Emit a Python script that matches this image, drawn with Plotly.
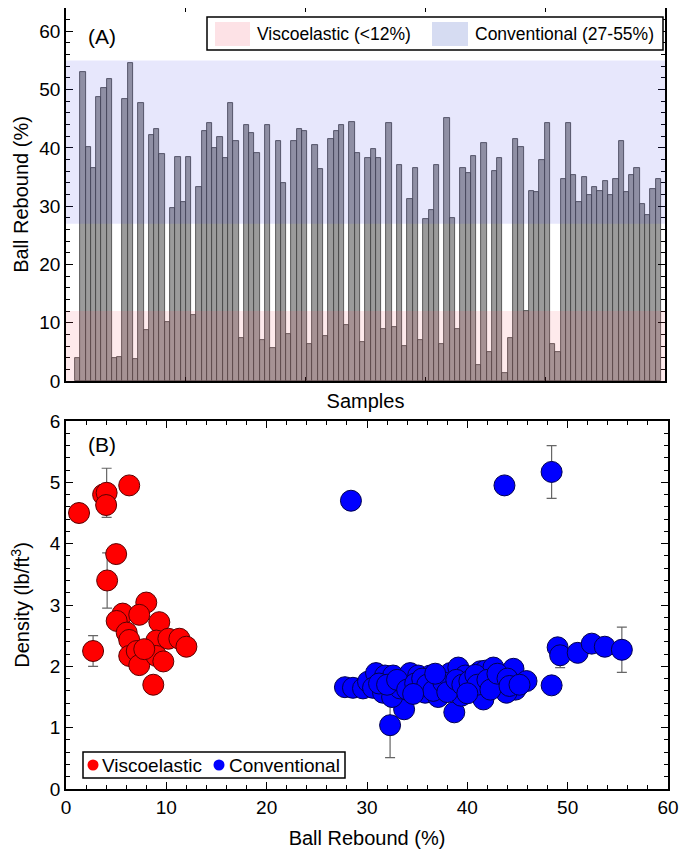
import plotly.graph_objects as go

# ---------------- data ----------------
sample_rebound = [
    4.0, 53.1, 40.2, 36.6, 48.8, 50.3, 51.8, 4.0, 4.1, 48.4,
    54.6, 3.8, 47.7, 8.7, 42.2, 43.2, 38.9, 10.2, 29.6, 38.5,
    30.7, 38.5, 11.3, 33.3, 42.9, 44.2, 39.9, 41.9, 38.2, 47.7,
    41.2, 7.3, 43.9, 42.5, 39.2, 7.0, 43.9, 5.7, 41.2, 34.0,
    8.0, 41.2, 43.2, 42.9, 6.4, 40.5, 36.3, 7.7, 41.5, 42.9,
    43.9, 9.6, 44.5, 39.2, 6.7, 38.2, 39.8, 38.2, 8.9, 44.2,
    9.3, 37.0, 6.0, 31.3, 36.6, 7.0, 27.8, 29.3, 37.0, 6.3,
    45.2, 28.0, 8.9, 36.6, 35.7, 38.6, 2.8, 40.8, 5.0, 36.0,
    38.2, 1.4, 7.3, 41.5, 40.2, 12.0, 32.6, 32.4, 37.9, 44.2,
    6.3, 5.0, 34.7, 44.2, 35.3, 30.7, 35.0, 31.9, 33.3, 32.6,
    34.3, 31.9, 34.7, 41.2, 32.4, 35.3, 36.6, 30.3, 28.4, 33.0,
    34.7,
]
samples = list(range(1, len(sample_rebound) + 1))

visco_rebound = [1.3, 2.7, 3.7, 4.05, 4.0, 6.3, 5.0, 4.1, 8.0, 5.65,
                 5.05, 7.3, 9.3, 6.05, 6.3, 9.0, 10.2, 11.3, 12.0, 6.3,
                 7.05, 7.3, 9.0, 9.7, 8.7, 7.8]
visco_density = [4.5, 2.25, 4.8, 4.83, 4.63, 4.95, 3.83, 3.4, 3.04, 2.86,
                 2.74, 2.84, 2.72, 2.55, 2.43, 2.42, 2.45, 2.45, 2.32, 2.17,
                 2.25, 2.02, 2.17, 2.08, 1.7, 2.28]

conv_rebound = [28.4, 43.7, 48.4, 48.4, 49.0, 49.25, 51.0, 52.4, 53.7, 55.4,
                32.3, 33.7, 38.7,
                27.8, 28.6, 29.6, 30.1, 30.9, 30.6, 31.6, 31.8, 32.6, 32.5,
                33.3, 34.3, 35.1, 35.0, 35.8, 36.3, 37.0, 37.3, 37.1, 38.3,
                39.1, 38.6, 39.4, 39.8, 40.6, 41.3, 41.8, 41.6, 41.6, 42.6,
                42.9, 43.4, 44.6, 44.8, 45.9, 43.9,
                31.2, 32.0, 33.0, 34.0, 34.8, 35.5, 36.0, 36.6, 37.6, 38.0,
                38.9, 39.5, 40.2, 40.8, 41.0, 42.0, 42.3, 43.0, 44.0, 44.2,
                45.2, 34.6, 36.8, 40.0]
conv_density = [4.7, 4.95, 5.17, 1.69, 2.31, 2.18, 2.22, 2.37, 2.32, 2.27,
                1.04, 1.3, 1.25,
                1.66, 1.65, 1.64, 1.75, 1.89, 1.65, 1.57, 1.85, 1.85, 1.5,
                1.64, 1.89, 1.85, 1.65, 1.57, 1.85, 1.68, 1.82, 1.5, 1.89,
                1.98, 1.62, 1.52, 1.85, 1.6, 1.92, 1.93, 1.62, 1.46, 1.98,
                1.79, 1.7, 1.96, 1.62, 1.76, 1.57,
                1.72, 1.7, 1.78, 1.62, 1.72, 1.8, 1.7, 1.6, 1.74, 1.58,
                1.78, 1.7, 1.76, 1.86, 1.7, 1.78, 1.62, 1.88, 1.8, 1.68,
                1.7, 1.55, 1.88, 1.56]

visco_err_rebound = [2.7, 4.05, 4.1, 10.2]
visco_err_density = [2.25, 4.83, 3.4, 2.45]
visco_err = [0.25, 0.4, 0.45, 0.08]
conv_err_rebound = [48.4, 49.25, 55.4, 32.3]
conv_err_density = [5.17, 2.18, 2.27, 1.04]
conv_err = [0.43, 0.2, 0.37, 0.53]

# ---------------- layout helpers ----------------
# The page places the figure 8 px from the top-left corner (body margin),
# so the figure is 8 px smaller and page coordinates are offset by 8.
OFF = 8
W, H = 697 - OFF, 860 - OFF
ML, MR, MT, MB = 66 - OFF, 29, 0, 71
PW, PH = W - ML - MR, H - MT - MB


def pxx(px):
    """page pixel x -> paper x"""
    return (px - OFF - ML) / PW


def pxy(py):
    """page pixel y -> paper y"""
    return (H - MB - (py - OFF)) / PH


FONT = "Liberation Sans, Arial, sans-serif"
BAND_PINK = "rgba(250,80,100,0.12)"
BAND_BLUE = "rgba(60,60,230,0.12)"
MARKER_SIZE = 21

fig = go.Figure()

fig.add_trace(go.Bar(
    x=samples, y=sample_rebound, width=1.0,
    marker=dict(color="#9b9b9b", line=dict(color="#3c3c3c", width=0.8)),
    xaxis="x", yaxis="y", showlegend=False, hoverinfo="x+y",
))

err_style = dict(type="data", color="#666666", thickness=1.2, width=5)
fig.add_trace(go.Scatter(
    x=visco_err_rebound, y=visco_err_density, mode="markers",
    marker=dict(size=1, opacity=0),
    error_y=dict(array=visco_err, **err_style),
    xaxis="x2", yaxis="y2", showlegend=False, hoverinfo="skip",
))
fig.add_trace(go.Scatter(
    x=conv_err_rebound, y=conv_err_density, mode="markers",
    marker=dict(size=1, opacity=0),
    error_y=dict(array=conv_err, **err_style),
    xaxis="x2", yaxis="y2", showlegend=False, hoverinfo="skip",
))
fig.add_trace(go.Scatter(
    x=visco_rebound, y=visco_density, mode="markers", name="Viscoelastic",
    marker=dict(size=MARKER_SIZE, color="#ff0000", line=dict(color="#5a0000", width=1)),
    xaxis="x2", yaxis="y2", showlegend=False,
))
fig.add_trace(go.Scatter(
    x=conv_rebound, y=conv_density, mode="markers", name="Conventional",
    marker=dict(size=MARKER_SIZE, color="#0000ff", line=dict(color="#000050", width=1)),
    xaxis="x2", yaxis="y2", showlegend=False,
))

# panel A x range & ticks (5 equal intervals)
xa_lo, xa_hi = -1.2, 112.3
xa_ticks = [xa_lo + k * (xa_hi - xa_lo) / 5 for k in range(6)]

axis_common = dict(showline=True, linecolor="black", linewidth=1.5, mirror="ticks",
                   ticks="inside", tickcolor="black", tickwidth=1.2,
                   showgrid=False, zeroline=False,
                   tickfont=dict(family=FONT, size=19, color="black"))
TITLE_FONT = dict(family=FONT, size=20, color="black")

fig.update_layout(
    width=W, height=H, margin=dict(l=ML, r=MR, t=MT, b=MB, autoexpand=False),
    paper_bgcolor="white", plot_bgcolor="white", bargap=0,
    font=dict(family=FONT, color="black"),
    xaxis=dict(domain=[0, (665 - OFF - ML) / PW], anchor="y", range=[xa_lo, xa_hi],
               tickvals=xa_ticks, showticklabels=False, ticklen=4,
               title=dict(text="Samples", font=TITLE_FONT, standoff=12),
               **axis_common),
    yaxis=dict(domain=[pxy(381), 1], anchor="x", range=[0, 64], dtick=10, tick0=0,
               ticklen=7,
               minor=dict(ticks="inside", ticklen=4, dtick=2, tickcolor="black", tickwidth=1),
               title=dict(text="Ball Rebound (%)", font=TITLE_FONT, standoff=5),
               **axis_common),
    xaxis2=dict(domain=[0, 1], anchor="y2", range=[0, 60], dtick=10, tick0=0,
                ticklen=7,
                minor=dict(ticks="inside", ticklen=4, dtick=2, tickcolor="black", tickwidth=1),
                title=dict(text="Ball Rebound (%)", font=TITLE_FONT, standoff=14),
                **axis_common),
    yaxis2=dict(domain=[0, pxy(421)], anchor="x2", range=[0, 6], dtick=1, tick0=0,
                ticklen=7,
                minor=dict(ticks="inside", ticklen=4, dtick=0.2, tickcolor="black", tickwidth=1),
                title=dict(text="Density (lb/ft<sup>3</sup>)", font=TITLE_FONT, standoff=15),
                **axis_common),
)

shapes = [
    dict(type="rect", xref="x domain", yref="y", x0=0, x1=1, y0=0, y1=12,
         fillcolor=BAND_PINK, line=dict(width=0), layer="above"),
    dict(type="rect", xref="x domain", yref="y", x0=0, x1=1, y0=27, y1=55,
         fillcolor=BAND_BLUE, line=dict(width=0), layer="above"),
    # legend A box
    dict(type="rect", xref="paper", yref="paper", x0=pxx(207), x1=pxx(663),
         y0=pxy(50), y1=pxy(17), fillcolor="white", line=dict(color="black", width=1.5), layer="above"),
    dict(type="rect", xref="paper", yref="paper", x0=pxx(215), x1=pxx(250),
         y0=pxy(46), y1=pxy(22), fillcolor="#fde2e6", line=dict(width=0), layer="above"),
    dict(type="rect", xref="paper", yref="paper", x0=pxx(432), x1=pxx(468),
         y0=pxy(46), y1=pxy(22), fillcolor="#d6dcf2", line=dict(width=0), layer="above"),
    # legend B box
    dict(type="rect", xref="paper", yref="paper", x0=pxx(83), x1=pxx(345),
         y0=pxy(778), y1=pxy(752), fillcolor="white", line=dict(color="black", width=1.5), layer="above"),
    dict(type="circle", xref="paper", yref="paper", xsizemode="pixel", ysizemode="pixel",
         xanchor=pxx(93), yanchor=pxy(765), x0=-5.5, x1=5.5, y0=-5.5, y1=5.5,
         fillcolor="#ff0000", line=dict(width=0), layer="above"),
    dict(type="circle", xref="paper", yref="paper", xsizemode="pixel", ysizemode="pixel",
         xanchor=pxx(219), yanchor=pxy(765), x0=-5.5, x1=5.5, y0=-5.5, y1=5.5,
         fillcolor="#0000ff", line=dict(width=0), layer="above"),
]

annotations = [
    dict(text="(A)", x=pxx(86), y=pxy(36), xref="paper", yref="paper", xanchor="left",
         yanchor="middle", showarrow=False, font=dict(family=FONT, size=21)),
    dict(text="(B)", x=pxx(86), y=pxy(445), xref="paper", yref="paper", xanchor="left",
         yanchor="middle", showarrow=False, font=dict(family=FONT, size=21)),
    dict(text="Viscoelastic (<12%)", x=pxx(255), y=pxy(34), xref="paper", yref="paper",
         xanchor="left", yanchor="middle", showarrow=False, font=dict(family=FONT, size=17.5)),
    dict(text="Conventional (27-55%)", x=pxx(473), y=pxy(34), xref="paper", yref="paper",
         xanchor="left", yanchor="middle", showarrow=False, font=dict(family=FONT, size=17.5)),
    dict(text="Viscoelastic", x=pxx(100), y=pxy(765), xref="paper", yref="paper",
         xanchor="left", yanchor="middle", showarrow=False, font=dict(family=FONT, size=19)),
    dict(text="Conventional", x=pxx(227), y=pxy(765), xref="paper", yref="paper",
         xanchor="left", yanchor="middle", showarrow=False, font=dict(family=FONT, size=19)),
]

fig.update_layout(shapes=shapes, annotations=annotations)

fig.write_html("out.html")
